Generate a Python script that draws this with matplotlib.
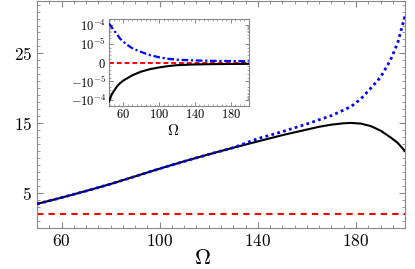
import matplotlib
matplotlib.use("Agg")
import matplotlib.pyplot as plt
from matplotlib.ticker import MultipleLocator, FixedLocator, FuncFormatter

plt.rcParams['mathtext.fontset'] = 'cm'

# main panel data
omega = [50, 60, 70, 80, 90, 100, 110, 120, 130, 140, 150, 160, 165, 170,
         175, 178, 182, 186, 190, 194, 197, 200]
black = [3.45, 4.35, 5.3, 6.3, 7.4, 8.5, 9.55, 10.55, 11.5, 12.4, 13.3, 14.1,
         14.5, 14.8, 15.0, 15.05, 14.95, 14.6, 13.95, 13.0, 12.2, 11.0]
blue = [3.45, 4.35, 5.3, 6.3, 7.4, 8.5, 9.55, 10.55, 11.5, 12.8, 13.8, 14.9,
        15.5, 16.1, 16.9, 17.4, 18.5, 20.0, 21.6, 24.0, 26.5, 30.4]
red = [2.0] * len(omega)

# inset data (units of 1e-5)
omega_in = [44, 46, 48, 50, 53, 56, 60, 65, 70, 80, 90, 100, 110, 120, 140,
            160, 180, 200]
blue_in = [12.0, 9.0, 6.6, 4.8, 3.2, 1.95, 1.3, 0.92, 0.76, 0.56, 0.39, 0.28,
           0.2, 0.15, 0.11, 0.09, 0.08, 0.07]
black_in = [-12.0, -6.5, -4.2, -3.0, -1.85, -1.3, -0.96, -0.82, -0.68, -0.48,
            -0.35, -0.26, -0.19, -0.14, -0.10, -0.085, -0.075, -0.07]
red_in = [0.0] * len(omega_in)

main_xticks = [60, 100, 140, 180]
main_yticks = [5, 15, 25]
inset_yticks = [-1e-4, -1e-5, 0, 1e-5, 1e-4]
inset_ylabels = ['$-10^{-4}$', '$-10^{-5}$', '$0$', '$10^{-5}$', '$10^{-4}$']

fig = plt.figure(figsize=(4.15, 2.69), dpi=100)
ax = fig.add_axes([0.0892, 0.1524, 0.8868, 0.8436])

ax.plot(omega, black, color='black', lw=1.5, zorder=3)
ax.plot(omega, blue, color='blue', lw=2.0, ls=(0, (1, 1.2)), zorder=4)
ax.plot(omega, red, color='red', lw=1.5, ls=(0, (3, 2.5)), zorder=2)

ax.set_xlim(50, 200)
ax.set_ylim(0, 32.5)
ax.xaxis.set_major_locator(FixedLocator(main_xticks))
ax.xaxis.set_minor_locator(MultipleLocator(5))
ax.yaxis.set_major_locator(FixedLocator(main_yticks))
ax.yaxis.set_minor_locator(MultipleLocator(1))
fmt = FuncFormatter(lambda v, p: '$%d$' % round(v))
ax.xaxis.set_major_formatter(fmt)
ax.yaxis.set_major_formatter(fmt)
ax.tick_params(which='both', direction='in', top=True, right=True,
               colors='#888888', labelcolor='black', labelsize=12.5)
ax.tick_params(which='major', length=4, width=0.8)
ax.tick_params(which='minor', length=2, width=0.6)
ax.tick_params(axis='x', pad=3)
for s in ax.spines.values():
    s.set_color('#888888')
ax.set_xlabel(r'$\Omega$', fontsize=16)
ax.xaxis.set_label_coords(0.45, -0.09, transform=ax.transAxes)
ax.xaxis.label.set_va('top')

# inset
ins = fig.add_axes([0.2627, 0.607, 0.3366, 0.321])
ins.plot(omega_in, [v * 1e-5 for v in black_in], color='black', lw=1.5, zorder=3)
ins.plot(omega_in, [v * 1e-5 for v in blue_in], color='blue', lw=1.6,
         ls=(0, (3, 1.2, 1, 1.2)), zorder=4)
ins.plot(omega_in, red_in, color='red', lw=1.4, ls=(0, (2.5, 1.5)), zorder=2)
ins.set_yscale('symlog', linthresh=1e-5, linscale=0.9)
ins.set_xlim(44, 200)
ins.set_ylim(-2e-4, 2e-4)
ins.xaxis.set_major_locator(FixedLocator(main_xticks))
ins.xaxis.set_minor_locator(MultipleLocator(5))
ins.xaxis.set_major_formatter(fmt)
ins.yaxis.set_major_locator(FixedLocator(inset_yticks))
ins.set_yticklabels(inset_ylabels)
ins.yaxis.set_minor_locator(FixedLocator(
    [s * m * d for s in (-1, 1) for d in (1e-5, 1e-4) for m in range(2, 10)]
    + [k * 2e-6 for k in range(-4, 5)]))
ins.tick_params(which='both', direction='in', top=True, right=True,
                colors='#888888', labelcolor='black', labelsize=9)
ins.tick_params(which='major', length=3, width=0.7)
ins.tick_params(which='minor', length=1.5, width=0.5)
ins.tick_params(axis='x', pad=2)
ins.tick_params(axis='y', pad=2)
for s in ins.spines.values():
    s.set_color('#888888')
ins.set_xlabel(r'$\Omega$', fontsize=11, labelpad=0)
ins.xaxis.set_label_coords(0.46, -0.2, transform=ins.transAxes)

fig.savefig('out.png', dpi=100)
